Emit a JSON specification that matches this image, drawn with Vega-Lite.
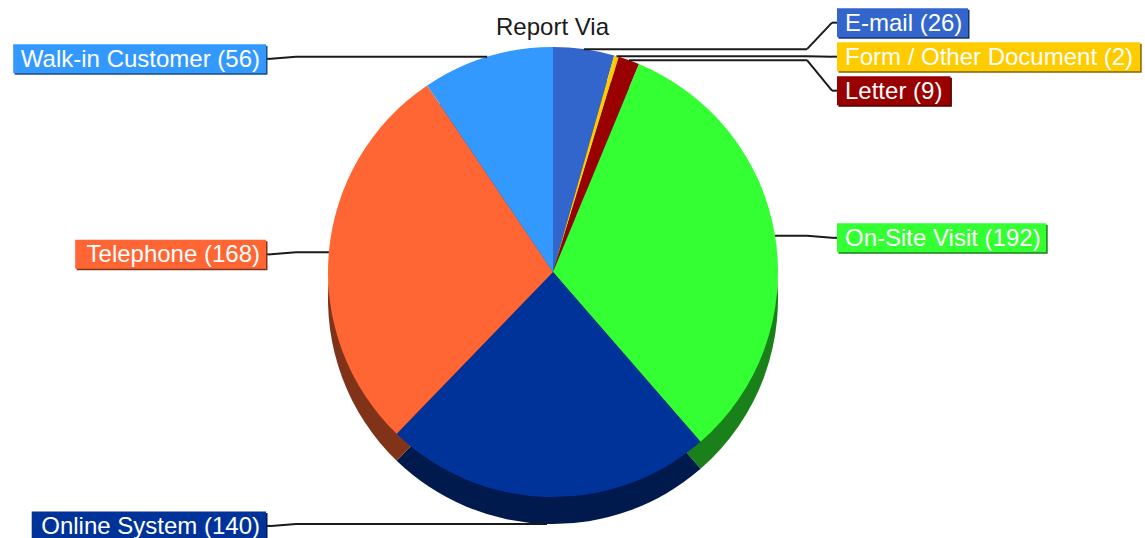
{
  "$schema": "https://vega.github.io/schema/vega-lite/v6.json",
  "width": 1145,
  "height": 538,
  "padding": 0,
  "autosize": {"type": "none"},
  "background": "white",
  "title": {"text": "Report Via", "font": "Liberation Sans", "fontSize": 24, "fontWeight": "normal", "color": "#1a1a1a", "anchor": "middle", "frame": "group", "orient": "top", "offset": -32, "baseline": "alphabetic", "dx": -20, "dy": 27},
  "config": {"view": {"stroke": null}},
  "data": {"values": [
    {"cat": "E-mail", "value": 26},
    {"cat": "Form / Other Document", "value": 2},
    {"cat": "Letter", "value": 9},
    {"cat": "On-Site Visit", "value": 192},
    {"cat": "Online System", "value": 140},
    {"cat": "Telephone", "value": 168},
    {"cat": "Walk-in Customer", "value": 56}
  ]},
  "transform": [
    {"joinaggregate": [{"op": "sum", "field": "value", "as": "total"}]},
    {"window": [{"op": "sum", "field": "value", "as": "cum"}], "sort": [{"field": "cat", "order": "ascending"}], "frame": [null, 0]},
    {"calculate": "(datum.cum - datum.value/2)/datum.total*2*PI", "as": "mid"},
    {"calculate": "225*sin(datum.mid)", "as": "ex"},
    {"calculate": "-225*cos(datum.mid) + (cos(datum.mid) < 0 ? 27 : 0)", "as": "ey"},
    {"calculate": "datum.ex < 0 ? 'L' : 'R'", "as": "side"},
    {"window": [{"op": "row_number", "as": "rn"}], "groupby": ["side"], "sort": [{"field": "ey", "order": "ascending"}]},
    {"calculate": "datum.ey - (datum.rn-1)*34", "as": "t"},
    {"window": [{"op": "max", "field": "t", "as": "fmax"}], "groupby": ["side"], "sort": [{"field": "ey", "order": "ascending"}], "frame": [null, 0]},
    {"window": [{"op": "min", "field": "t", "as": "bmin"}], "groupby": ["side"], "sort": [{"field": "ey", "order": "ascending"}], "frame": [0, null]},
    {"calculate": "(datum.rn-1)*34 + (datum.fmax + datum.bmin)/2 + 2", "as": "ly"},
    {"calculate": "datum.side == 'R' ? 284 : -287", "as": "bx"},
    {"calculate": "datum.side == 'R' ? datum.bx - 30 : datum.bx + 30", "as": "kx"},
    {"calculate": "datum.side == 'R' ? datum.bx - 5 : datum.bx + 5", "as": "b2"},
    {"calculate": "datum.cat + ' (' + datum.value + ')'", "as": "label"},
    {"calculate": "13.3*length(datum.label) - 8*(length(datum.label)-length(replace(datum.label, regexp('[ilj]','g'), ''))) - 6.3*(length(datum.label)-length(replace(datum.label, regexp('[tfr() /-]','g'), ''))) + 7.7*(length(datum.label)-length(replace(datum.label, regexp('[mMW]','g'), ''))) + 3.2*(length(datum.label)-length(replace(datum.label, regexp('[A-LN-VX-Z]','g'), ''))) + 15", "as": "w"},
    {"calculate": "datum.side == 'R' ? datum.bx + datum.w : datum.bx - datum.w", "as": "bxe"},
    {"calculate": "datum.side == 'R' ? datum.bx + 8 : datum.bx - 6", "as": "tx"},
    {"calculate": "datum.ly - 14.5", "as": "yt"},
    {"calculate": "datum.ly + 14.5", "as": "yb"}
  ],
  "resolve": {"scale": {"color": "independent"}},
  "layer": [
    {
      "mark": {"type": "arc", "outerRadius": 225},
      "encoding": {
        "x": {"datum": 0, "type": "quantitative", "scale": {"domain": [-553, 592], "nice": false, "zero": false}, "axis": null},
        "y": {"datum": 27, "type": "quantitative", "scale": {"domain": [-272, 266], "nice": false, "zero": false, "reverse": true}, "axis": null},
        "theta": {"field": "value", "type": "quantitative", "stack": true},
        "order": {"field": "cat", "type": "ordinal", "sort": "ascending"},
        "color": {"field": "cat", "type": "nominal", "legend": null, "scale": {"domain": ["E-mail", "Form / Other Document", "Letter", "On-Site Visit", "Online System", "Telephone", "Walk-in Customer"], "range": ["#1a3366", "#806600", "#4d0000", "#1a801a", "#001a4d", "#803319", "#1a4d80"]}}
      }
    },
    {
      "mark": {"type": "arc", "outerRadius": 225},
      "encoding": {
        "x": {"datum": 0, "type": "quantitative", "scale": {"domain": [-553, 592], "nice": false, "zero": false}, "axis": null},
        "y": {"datum": 0, "type": "quantitative", "scale": {"domain": [-272, 266], "nice": false, "zero": false, "reverse": true}, "axis": null},
        "theta": {"field": "value", "type": "quantitative", "stack": true},
        "order": {"field": "cat", "type": "ordinal", "sort": "ascending"},
        "color": {"field": "cat", "type": "nominal", "legend": null, "scale": {"domain": ["E-mail", "Form / Other Document", "Letter", "On-Site Visit", "Online System", "Telephone", "Walk-in Customer"], "range": ["#3366cc", "#ffcc00", "#990000", "#33ff33", "#003399", "#ff6633", "#3399ff"]}}
      }
    },
    {
      "mark": {"type": "rule", "color": "#1a1a1a", "strokeWidth": 2},
      "encoding": {
        "x": {"field": "ex", "type": "quantitative", "scale": {"domain": [-553, 592], "nice": false, "zero": false}, "axis": null},
        "y": {"field": "ey", "type": "quantitative", "scale": {"domain": [-272, 266], "nice": false, "zero": false, "reverse": true}, "axis": null},
        "x2": {"field": "kx"},
        "y2": {"field": "ey"}
      }
    },
    {
      "mark": {"type": "rule", "color": "#1a1a1a", "strokeWidth": 2},
      "encoding": {
        "x": {"field": "kx", "type": "quantitative", "scale": {"domain": [-553, 592], "nice": false, "zero": false}, "axis": null},
        "y": {"field": "ey", "type": "quantitative", "scale": {"domain": [-272, 266], "nice": false, "zero": false, "reverse": true}, "axis": null},
        "x2": {"field": "b2"},
        "y2": {"field": "ly"}
      }
    },
    {
      "mark": {"type": "rule", "color": "#1a1a1a", "strokeWidth": 2},
      "encoding": {
        "x": {"field": "b2", "type": "quantitative", "scale": {"domain": [-553, 592], "nice": false, "zero": false}, "axis": null},
        "y": {"field": "ly", "type": "quantitative", "scale": {"domain": [-272, 266], "nice": false, "zero": false, "reverse": true}, "axis": null},
        "x2": {"field": "bx"},
        "y2": {"field": "ly"}
      }
    },
    {
      "mark": {"type": "rect", "xOffset": 1.5, "x2Offset": 1.5, "yOffset": 1.5, "y2Offset": 1.5},
      "encoding": {
        "x": {"field": "bx", "type": "quantitative", "scale": {"domain": [-553, 592], "nice": false, "zero": false}, "axis": null},
        "x2": {"field": "bxe"},
        "y": {"field": "yt", "type": "quantitative", "scale": {"domain": [-272, 266], "nice": false, "zero": false, "reverse": true}, "axis": null},
        "y2": {"field": "yb"},
        "color": {"field": "cat", "type": "nominal", "legend": null, "scale": {"domain": ["E-mail", "Form / Other Document", "Letter", "On-Site Visit", "Online System", "Telephone", "Walk-in Customer"], "range": ["#1a3366", "#806600", "#4d0000", "#1a801a", "#001a4d", "#803319", "#1a4d80"]}}
      }
    },
    {
      "mark": {"type": "rect"},
      "encoding": {
        "x": {"field": "bx", "type": "quantitative", "scale": {"domain": [-553, 592], "nice": false, "zero": false}, "axis": null},
        "x2": {"field": "bxe"},
        "y": {"field": "yt", "type": "quantitative", "scale": {"domain": [-272, 266], "nice": false, "zero": false, "reverse": true}, "axis": null},
        "y2": {"field": "yb"},
        "color": {"field": "cat", "type": "nominal", "legend": null, "scale": {"domain": ["E-mail", "Form / Other Document", "Letter", "On-Site Visit", "Online System", "Telephone", "Walk-in Customer"], "range": ["#3366cc", "#ffcc00", "#990000", "#33ff33", "#003399", "#ff6633", "#3399ff"]}}
      }
    },
    {
      "transform": [{"filter": "datum.side == 'L'"}],
      "mark": {"type": "text", "font": "Liberation Sans", "fontSize": 24, "fill": "#ffffff", "baseline": "middle", "align": "right", "dy": 1},
      "encoding": {
        "x": {"field": "tx", "type": "quantitative", "scale": {"domain": [-553, 592], "nice": false, "zero": false}, "axis": null},
        "y": {"field": "ly", "type": "quantitative", "scale": {"domain": [-272, 266], "nice": false, "zero": false, "reverse": true}, "axis": null},
        "text": {"field": "label"}
      }
    },
    {
      "transform": [{"filter": "datum.side == 'R'"}],
      "mark": {"type": "text", "font": "Liberation Sans", "fontSize": 24, "fill": "#ffffff", "baseline": "middle", "align": "left", "dy": 1},
      "encoding": {
        "x": {"field": "tx", "type": "quantitative", "scale": {"domain": [-553, 592], "nice": false, "zero": false}, "axis": null},
        "y": {"field": "ly", "type": "quantitative", "scale": {"domain": [-272, 266], "nice": false, "zero": false, "reverse": true}, "axis": null},
        "text": {"field": "label"}
      }
    }
  ]
}
